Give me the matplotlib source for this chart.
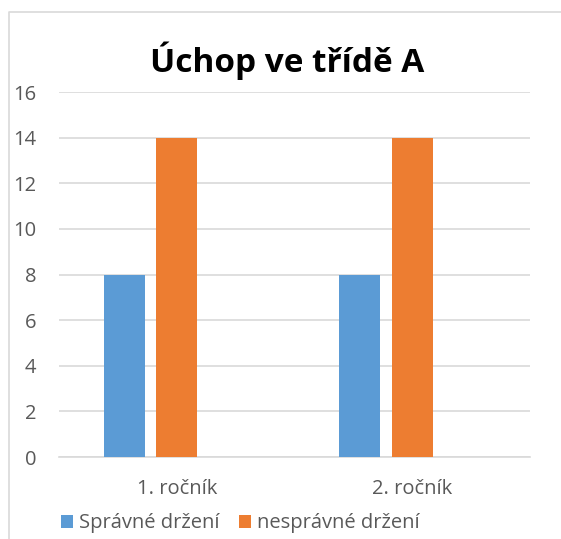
import numpy as np
import matplotlib
matplotlib.use('Agg')
import matplotlib.pyplot as plt
from matplotlib.lines import Line2D

plt.rcParams['font.family'] = ['Open Sans', 'DejaVu Sans']

title = 'Úchop ve třídě A'
categories = ['1. ročník', '2. ročník']
series_names = ['Správné držení', 'nesprávné držení']
spravne = [8, 8]
nespravne = [14, 14]
colors = ['#5B9BD5', '#ED7D31']
yticks = [0, 2, 4, 6, 8, 10, 12, 14, 16]

fig = plt.figure(figsize=(5.61, 5.39), dpi=100)
ax = fig.add_axes([0.1052, 0.1521, 0.8396, 0.6772])

x = np.arange(len(categories))
pitch = 0.223
width = 0.174
# excel chart has three slots per category, the third one is empty
for i, (vals, name, c) in enumerate(zip([spravne, nespravne], series_names, colors)):
    ax.bar(x + (i - 1) * pitch, vals, width, color=c, label=name, zorder=3)

ax.set_xlim(-0.5, len(categories) - 0.5)
ax.set_ylim(0, 16)
ax.set_yticks(yticks)
ax.set_xticks(x)
ax.set_xticklabels(categories)
ax.yaxis.grid(True, color='#D9D9D9', linewidth=1.2, zorder=0)
for s in ['top', 'right', 'left']:
    ax.spines[s].set_visible(False)
ax.spines['bottom'].set_color('#D9D9D9')
ax.spines['bottom'].set_linewidth(1.2)
ax.tick_params(axis='both', length=0, labelsize=14.5, colors='#595959')
ax.tick_params(axis='y', pad=16.5)
ax.tick_params(axis='x', pad=16)

fig.text(0.512, 0.887, title, ha='center', va='center', fontsize=24, fontweight='bold', color='black')

ax.legend(loc='center left', bbox_to_anchor=(0.108, 0.029), bbox_transform=fig.transFigure,
          ncol=2, frameon=False, fontsize=14.5, labelcolor='#595959',
          handlelength=0.6, handleheight=0.6, handletextpad=0.3, columnspacing=1.0,
          borderaxespad=0, borderpad=0)

# chart frame (cut off at right and bottom)
fig.add_artist(Line2D([0.016, 0.016, 1.0], [0.0, 0.9777, 0.9777], transform=fig.transFigure,
                      color='#D9D9D9', linewidth=1.2))

fig.savefig('out.png', dpi=100)
